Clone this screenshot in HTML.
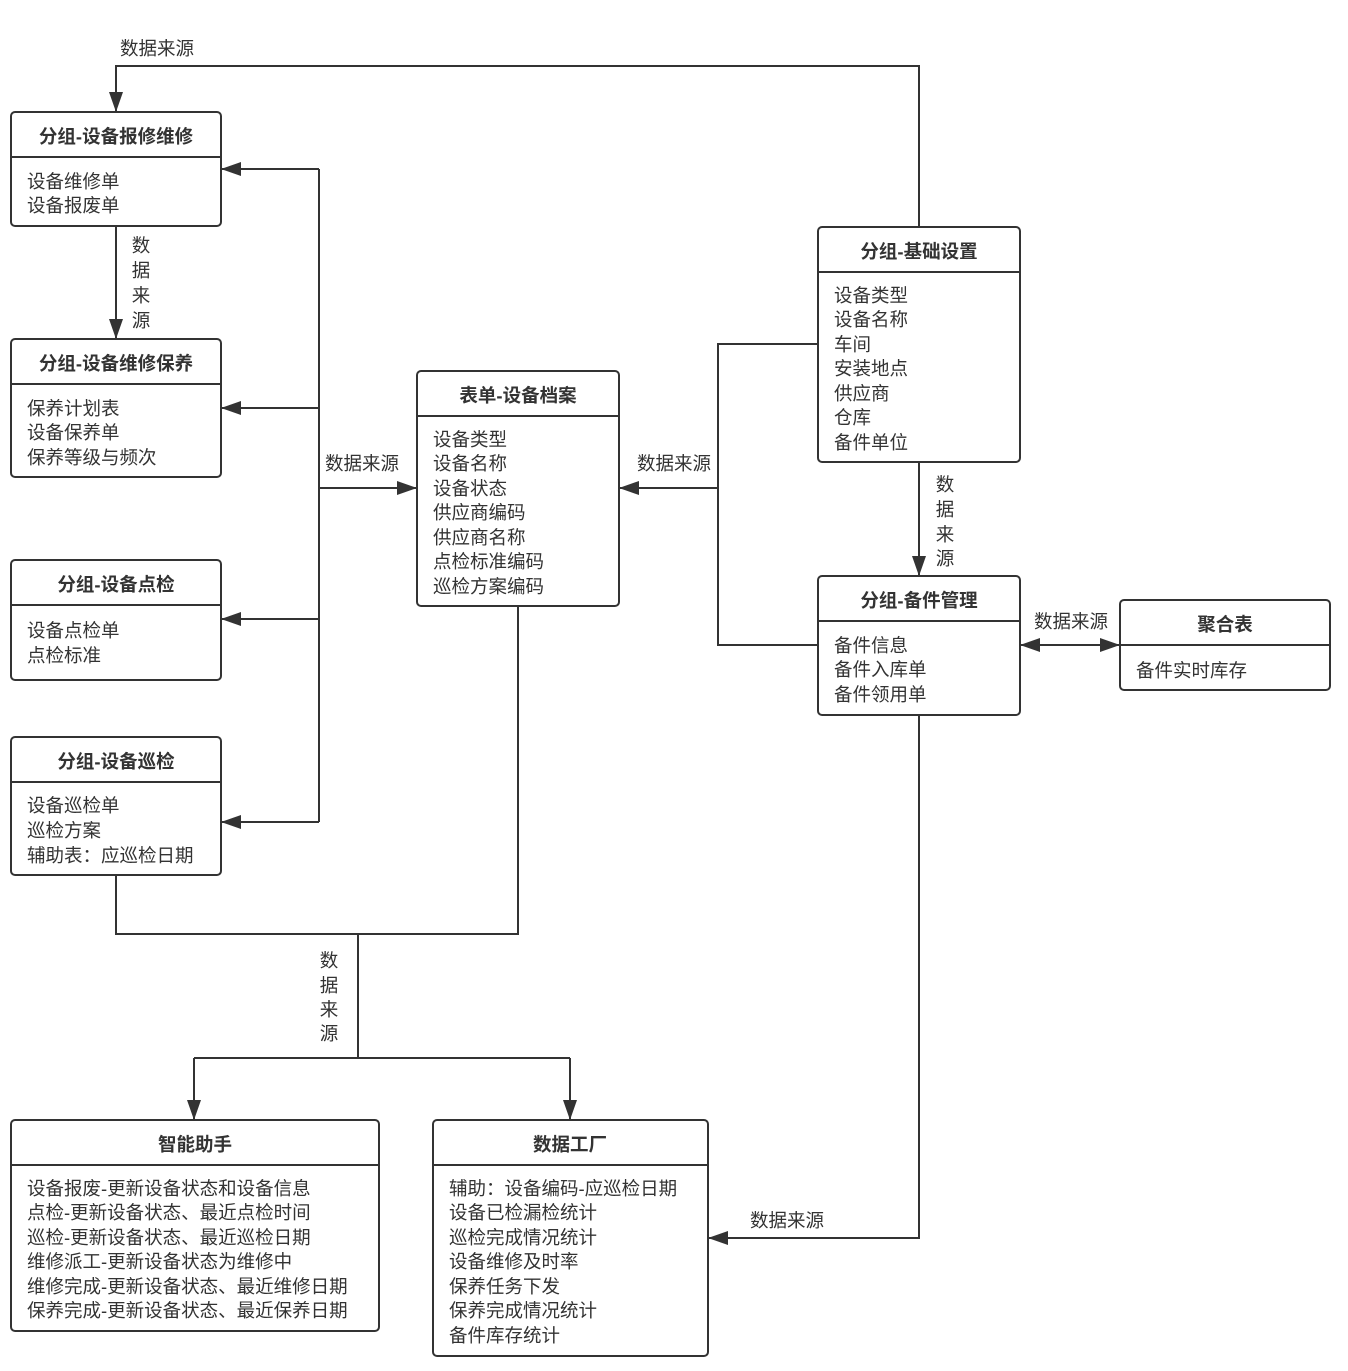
<!DOCTYPE html>
<html><head><meta charset="utf-8"><style>
html,body{margin:0;padding:0;background:#fff;}
svg{display:block;}
text{font-family:"Liberation Sans","Noto Sans CJK SC",sans-serif;fill:#333;font-size:18.5px;}
.h{font-weight:bold;text-anchor:middle;}
.l{text-anchor:middle;}
</style></head><body>
<svg width="1348" height="1371" viewBox="0 0 1348 1371" xmlns="http://www.w3.org/2000/svg">
<defs><marker id="a" markerWidth="12" markerHeight="12" refX="11" refY="6" orient="auto" markerUnits="userSpaceOnUse"><path d="M0,0 L12,6 L0,12 z" fill="#333"/></marker>
<marker id="b" markerWidth="20" markerHeight="14" refX="19" refY="7" orient="auto" markerUnits="userSpaceOnUse"><path d="M0,0 L20,7 L0,14 z" fill="#333"/></marker>
<marker id="s" markerWidth="20" markerHeight="14" refX="1" refY="7" orient="auto" markerUnits="userSpaceOnUse"><path d="M20,0 L0,7 L20,14 z" fill="#333"/></marker></defs>
<g fill="none" stroke="#333" stroke-width="2">
<!-- connectors -->
<polyline points="919,227 919,66 116,66 116,111" marker-end="url(#b)"/>
<line x1="116" y1="226" x2="116" y2="338" marker-end="url(#b)"/>
<line x1="319" y1="169" x2="319" y2="822"/>
<line x1="319" y1="169" x2="222" y2="169" marker-end="url(#b)"/>
<line x1="319" y1="408" x2="222" y2="408" marker-end="url(#b)"/>
<line x1="319" y1="619" x2="222" y2="619" marker-end="url(#b)"/>
<line x1="319" y1="822" x2="222" y2="822" marker-end="url(#b)"/>
<line x1="319" y1="488" x2="416" y2="488" marker-end="url(#b)"/>
<polyline points="818,344 718,344 718,645 818,645"/>
<line x1="718" y1="488" x2="620" y2="488" marker-end="url(#b)"/>
<line x1="919" y1="462" x2="919" y2="575" marker-end="url(#b)"/>
<line x1="1021" y1="645" x2="1119" y2="645" marker-start="url(#s)" marker-end="url(#b)"/>
<polyline points="919,715 919,1238 709,1238" marker-end="url(#b)"/>
<polyline points="116,875 116,934 518,934 518,606"/>
<line x1="358" y1="934" x2="358" y2="1058"/>
<polyline points="194,1058 570,1058"/>
<line x1="194" y1="1058" x2="194" y2="1119" marker-end="url(#b)"/>
<line x1="570" y1="1058" x2="570" y2="1119" marker-end="url(#b)"/>
<!-- boxes -->
<rect x="11" y="112" width="210" height="114" rx="4"/><line x1="11" y1="157" x2="221" y2="157"/>
<rect x="11" y="339" width="210" height="138" rx="4"/><line x1="11" y1="384" x2="221" y2="384"/>
<rect x="11" y="560" width="210" height="120" rx="4"/><line x1="11" y1="605" x2="221" y2="605"/>
<rect x="11" y="737" width="210" height="138" rx="4"/><line x1="11" y1="782" x2="221" y2="782"/>
<rect x="417" y="371" width="202" height="235" rx="4"/><line x1="417" y1="416" x2="619" y2="416"/>
<rect x="818" y="227" width="202" height="235" rx="4"/><line x1="818" y1="272" x2="1020" y2="272"/>
<rect x="818" y="576" width="202" height="139" rx="4"/><line x1="818" y1="621" x2="1020" y2="621"/>
<rect x="1120" y="600" width="210" height="90" rx="4"/><line x1="1120" y1="645" x2="1330" y2="645"/>
<rect x="11" y="1120" width="368" height="211" rx="4"/><line x1="11" y1="1165" x2="379" y2="1165"/>
<rect x="433" y="1120" width="275" height="236" rx="4"/><line x1="433" y1="1165" x2="708" y2="1165"/>
</g>
<!-- headers -->
<text class="h" x="116" y="143">分组-设备报修维修</text>
<text class="h" x="116" y="370">分组-设备维修保养</text>
<text class="h" x="116" y="591">分组-设备点检</text>
<text class="h" x="116" y="768">分组-设备巡检</text>
<text class="h" x="518" y="402">表单-设备档案</text>
<text class="h" x="919" y="258">分组-基础设置</text>
<text class="h" x="919" y="607">分组-备件管理</text>
<text class="h" x="1225" y="631">聚合表</text>
<text class="h" x="195" y="1151">智能助手</text>
<text class="h" x="570" y="1151">数据工厂</text>
<!-- items -->
<text x="27" y="188">设备维修单</text><text x="27" y="212">设备报废单</text>
<text x="27" y="415">保养计划表</text><text x="27" y="439">设备保养单</text><text x="27" y="464">保养等级与频次</text>
<text x="27" y="637">设备点检单</text><text x="27" y="662">点检标准</text>
<text x="27" y="812">设备巡检单</text><text x="27" y="837">巡检方案</text><text x="27" y="862">辅助表：应巡检日期</text>
<text x="433" y="446">设备类型</text><text x="433" y="470">设备名称</text><text x="433" y="495">设备状态</text><text x="433" y="519">供应商编码</text><text x="433" y="544">供应商名称</text><text x="433" y="568">点检标准编码</text><text x="433" y="593">巡检方案编码</text>
<text x="834" y="302">设备类型</text><text x="834" y="326">设备名称</text><text x="834" y="351">车间</text><text x="834" y="375">安装地点</text><text x="834" y="400">供应商</text><text x="834" y="424">仓库</text><text x="834" y="449">备件单位</text>
<text x="834" y="652">备件信息</text><text x="834" y="676">备件入库单</text><text x="834" y="701">备件领用单</text>
<text x="1136" y="677">备件实时库存</text>
<text x="27" y="1195">设备报废-更新设备状态和设备信息</text><text x="27" y="1219">点检-更新设备状态、最近点检时间</text><text x="27" y="1244">巡检-更新设备状态、最近巡检日期</text><text x="27" y="1268">维修派工-更新设备状态为维修中</text><text x="27" y="1293">维修完成-更新设备状态、最近维修日期</text><text x="27" y="1317">保养完成-更新设备状态、最近保养日期</text>
<text x="449" y="1195">辅助：设备编码-应巡检日期</text><text x="449" y="1219">设备已检漏检统计</text><text x="449" y="1244">巡检完成情况统计</text><text x="449" y="1268">设备维修及时率</text><text x="449" y="1293">保养任务下发</text><text x="449" y="1317">保养完成情况统计</text><text x="449" y="1342">备件库存统计</text>
<!-- labels -->
<text class="l" x="157" y="55">数据来源</text>
<text class="l" x="141" y="252">数</text><text class="l" x="141" y="277">据</text><text class="l" x="141" y="302">来</text><text class="l" x="141" y="327">源</text>
<text class="l" x="362" y="470">数据来源</text>
<text class="l" x="674" y="470">数据来源</text>
<text class="l" x="945" y="491">数</text><text class="l" x="945" y="516">据</text><text class="l" x="945" y="541">来</text><text class="l" x="945" y="565">源</text>
<text class="l" x="1071" y="628">数据来源</text>
<text class="l" x="787" y="1227">数据来源</text>
<text class="l" x="329" y="967">数</text><text class="l" x="329" y="992">据</text><text class="l" x="329" y="1016">来</text><text class="l" x="329" y="1040">源</text>
</svg>
</body></html>
